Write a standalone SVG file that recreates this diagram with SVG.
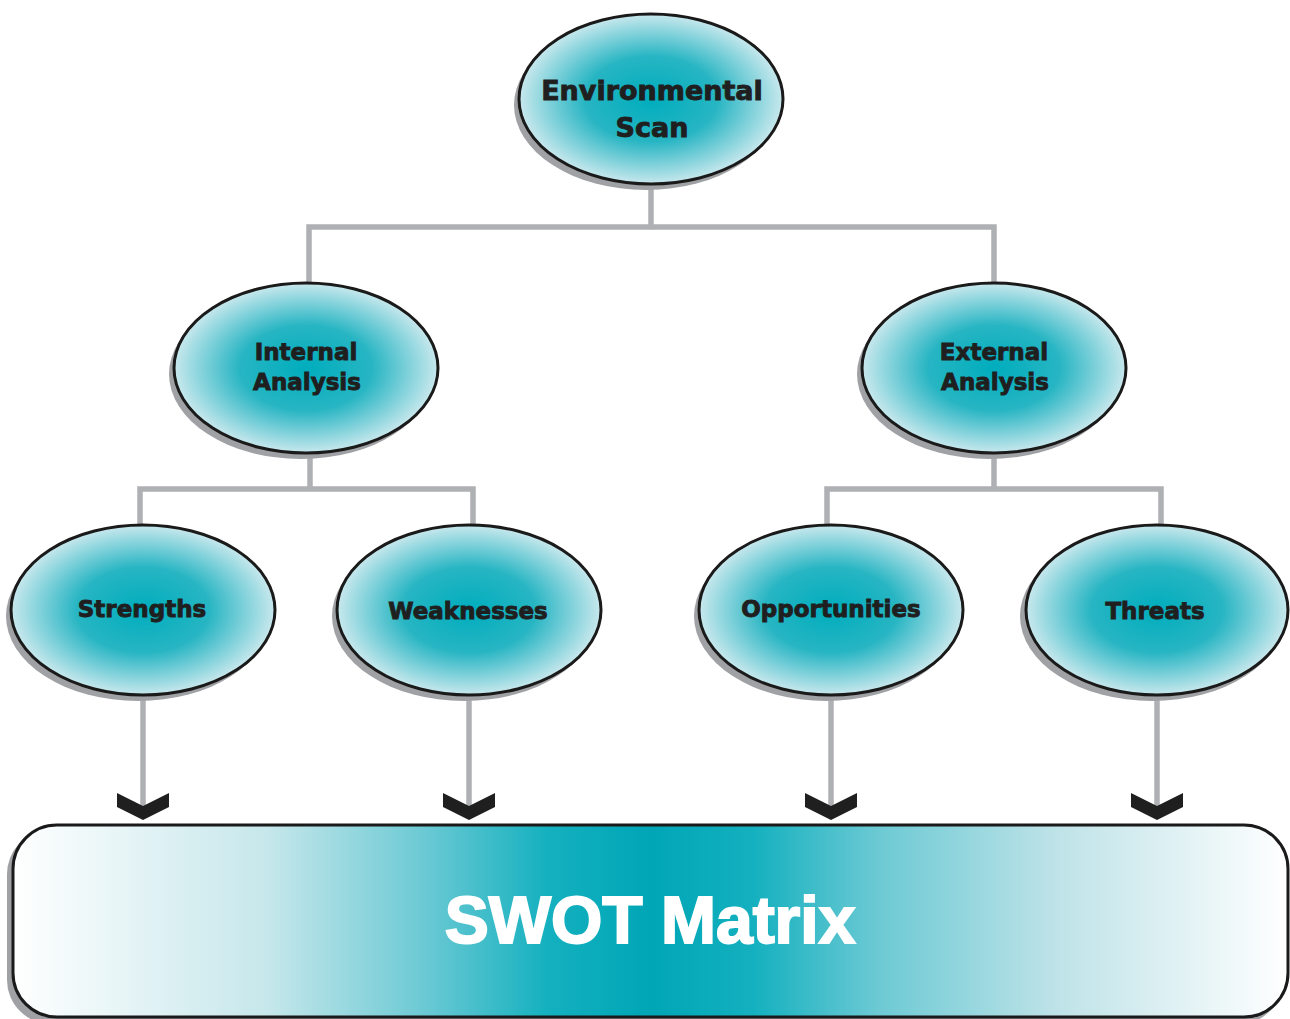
<svg xmlns="http://www.w3.org/2000/svg" width="1290" height="1019" viewBox="0 0 1290 1019">
  <defs>
    <radialGradient id="bubble" cx="50%" cy="50%" r="50%">
      <stop offset="0" stop-color="#00adbd"/>
      <stop offset="0.5" stop-color="#27b5c3"/>
      <stop offset="1" stop-color="#c8e8ed"/>
    </radialGradient>
    <linearGradient id="band" x1="0" y1="0" x2="1" y2="0">
      <stop offset="0" stop-color="#ffffff"/>
      <stop offset="0.2" stop-color="#c6e7eb"/>
      <stop offset="0.32" stop-color="#6dcad4"/>
      <stop offset="0.42" stop-color="#14b0bf"/>
      <stop offset="0.5" stop-color="#00a6b6"/>
      <stop offset="0.58" stop-color="#14b0bf"/>
      <stop offset="0.68" stop-color="#6dcad4"/>
      <stop offset="0.82" stop-color="#bfe3e8"/>
      <stop offset="1" stop-color="#ffffff"/>
    </linearGradient>
    <path id="chevron" d="M-26,-13 L0,0 L26,-13 L26,1 L0,14 L-26,1 Z"/>
  </defs>
  <style>
    .wire { fill: none; stroke: #aeb0b3; stroke-width: 5.5; }
    .shadow { fill: #9fa1a4; }
    .bubble { fill: url(#bubble); stroke: #1a1a1a; stroke-width: 3; }
    .label { font-family: "DejaVu Sans", "Liberation Sans", sans-serif; font-weight: bold; fill: #1f1f1f; stroke: #1f1f1f; stroke-width: 0.9; text-anchor: middle; }
    .big { font-size: 27px; }
    .mid { font-size: 23px; }
    .head { fill: #1f1f1f; }
  </style>

  <!-- connectors -->
  <g id="connectors">
    <polyline class="wire" points="309,285 309,227 994,227 994,285"/>
    <line class="wire" x1="651" y1="186" x2="651" y2="227"/>
    <polyline class="wire" points="140,526 140,489 473,489 473,526"/>
    <line class="wire" x1="310" y1="454" x2="310" y2="489"/>
    <polyline class="wire" points="827,526 827,489 1161,489 1161,526"/>
    <line class="wire" x1="994" y1="455" x2="994" y2="489"/>
    <line class="wire" x1="143" y1="697" x2="143" y2="806"/>
    <line class="wire" x1="469" y1="697" x2="469" y2="806"/>
    <line class="wire" x1="831" y1="697" x2="831" y2="806"/>
    <line class="wire" x1="1157" y1="697" x2="1157" y2="806"/>
    <use href="#chevron" class="head" x="143" y="806"/>
    <use href="#chevron" class="head" x="469" y="806"/>
    <use href="#chevron" class="head" x="831" y="806"/>
    <use href="#chevron" class="head" x="1157" y="806"/>
  </g>

  <!-- top level -->
  <g id="environmental-scan">
    <ellipse class="shadow" cx="646" cy="105" rx="132" ry="85"/>
    <ellipse class="bubble" cx="651" cy="99" rx="132" ry="85"/>
    <text class="label big" x="652" y="100">Environmental</text>
    <text class="label big" x="652" y="137">Scan</text>
  </g>

  <!-- second level -->
  <g id="internal-analysis">
    <ellipse class="shadow" cx="301" cy="374" rx="132" ry="85"/>
    <ellipse class="bubble" cx="306" cy="368" rx="132" ry="85"/>
    <text class="label mid" x="306" y="360">Internal</text>
    <text class="label mid" x="307" y="390">Analysis</text>
  </g>
  <g id="external-analysis">
    <ellipse class="shadow" cx="989" cy="374" rx="132" ry="85"/>
    <ellipse class="bubble" cx="994" cy="368" rx="132" ry="85"/>
    <text class="label mid" x="994" y="360">External</text>
    <text class="label mid" x="995" y="390">Analysis</text>
  </g>

  <!-- third level -->
  <g id="strengths">
    <ellipse class="shadow" cx="138" cy="616" rx="132" ry="85"/>
    <ellipse class="bubble" cx="143" cy="610" rx="132" ry="85"/>
    <text class="label mid" x="142" y="617">Strengths</text>
  </g>
  <g id="weaknesses">
    <ellipse class="shadow" cx="464" cy="616" rx="132" ry="85"/>
    <ellipse class="bubble" cx="469" cy="610" rx="132" ry="85"/>
    <text class="label mid" x="468" y="619">Weaknesses</text>
  </g>
  <g id="opportunities">
    <ellipse class="shadow" cx="826" cy="616" rx="132" ry="85"/>
    <ellipse class="bubble" cx="831" cy="610" rx="132" ry="85"/>
    <text class="label mid" x="831" y="617">Opportunities</text>
  </g>
  <g id="threats">
    <ellipse class="shadow" cx="1152" cy="616" rx="132" ry="85"/>
    <ellipse class="bubble" cx="1157" cy="610" rx="131" ry="85"/>
    <text class="label mid" x="1155" y="619">Threats</text>
  </g>

  <!-- result band -->
  <g id="swot-matrix">
    <rect x="7" y="830" width="1276" height="194" rx="44" ry="44" fill="#9fa1a4"/>
    <rect x="13" y="825" width="1275" height="192" rx="44" ry="44" fill="url(#band)" stroke="#1a1a1a" stroke-width="3"/>
    <text x="650" y="943" font-family="'Liberation Sans', Arial, sans-serif" font-weight="bold" font-size="66" fill="#ffffff" stroke="#ffffff" stroke-width="2" text-anchor="middle">SWOT Matrix</text>
  </g>
</svg>
